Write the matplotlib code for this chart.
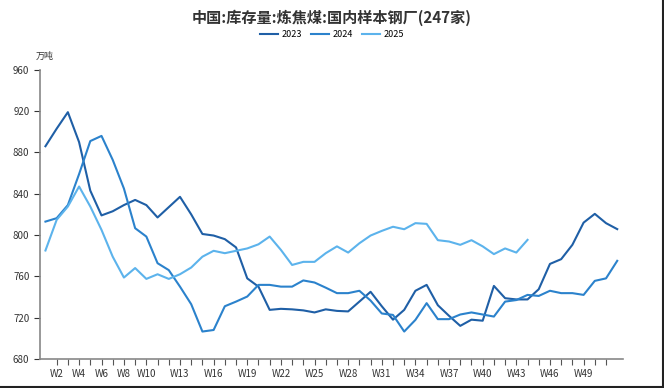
import matplotlib
matplotlib.use('Agg')
import matplotlib.pyplot as plt
from matplotlib.lines import Line2D
import numpy as np

plt.rcParams['font.family'] = ['Noto Sans CJK SC', 'DejaVu Sans']

weeks = ['W%d' % i for i in range(1, 53)]
shown_labels = ['W2', 'W4', 'W6', 'W8', 'W10', 'W13', 'W16', 'W19', 'W22', 'W25',
                'W28', 'W31', 'W34', 'W37', 'W40', 'W43', 'W46', 'W49']

y2023 = [886, 903, 919, 890, 843, 819, 823, 829, 834, 829, 817, 827, 837, 820,
         801, 799.5, 796, 788, 758, 750, 727.5, 728.5, 728, 727, 725, 728,
         726.5, 726, 735.5, 745, 731, 718, 727.5, 746, 751.7, 732, 721.7, 712,
         718, 717, 750.7, 738.8, 737.6, 737.6, 747.5, 772, 776.6, 790.5, 812,
         820.5, 811.5, 805.7]
y2024 = [813, 816.3, 829, 859, 891, 896, 872.8, 845, 806.6, 798.5, 772.7, 766,
         750, 733, 706.5, 708, 731, 735.5, 740.4, 751.7, 751.7, 750, 750, 756,
         754, 749, 743.7, 743.7, 746, 736.5, 724, 722.6, 706.5, 717.8, 734,
         718.5, 718.5, 723, 725, 723, 721, 735.5, 737, 742, 741, 746, 743.7,
         743.7, 742, 755.6, 758, 775]
y2025 = [785, 814.7, 827.6, 847, 827.6, 805, 779, 758.8, 768, 757.5, 762, 757.5,
         762, 768.5, 779, 784.7, 782.4, 784.7, 787, 791, 798.5, 785.6, 771, 774,
         774, 782.4, 789, 783, 792, 799.5, 804, 808, 805.6, 811.5, 810.8, 795,
         793.7, 790.5, 795, 789, 781.5, 787, 783, 795.3]

colors = {'2023': '#1f5fa6', '2024': '#2b82cc', '2025': '#5cb3ec'}

fig = plt.figure(figsize=(6.64, 3.88), dpi=100)
ax = fig.add_axes([0.060, 0.075, 0.878, 0.745])

x = np.arange(len(weeks))
ax.plot(x, y2023, color=colors['2023'], lw=1.5, label='2023')
ax.plot(x, y2024, color=colors['2024'], lw=1.5, label='2024')
ax.plot(np.arange(len(y2025)), y2025, color=colors['2025'], lw=1.5, label='2025')

ax.set_xlim(-0.5, 51.5)
ax.set_ylim(680, 960)
ax.set_yticks(np.arange(680, 961, 40))
ax.set_xticks(np.arange(1, 51))
ax.set_xticklabels([w if w in shown_labels else '' for w in weeks[1:51]])
ax.tick_params(axis='both', labelsize=7, colors='#333333', length=4, width=0.8)
ax.tick_params(axis='x', colors='#555555', labelcolor='#333333')
for s in ['top', 'right']:
    ax.spines[s].set_visible(False)
for s in ['left', 'bottom']:
    ax.spines[s].set_color('#888888')
    ax.spines[s].set_linewidth(1.2)

fig.text(0.5, 0.955, '中国:库存量:炼焦煤:国内样本钢厂(247家)', ha='center', va='center',
         fontsize=10.9, fontweight='bold', color='#333333')
fig.legend(loc='center', bbox_to_anchor=(0.5, 0.91), ncol=3, frameon=False,
           fontsize=6.5, handlelength=2.0, columnspacing=1.0, handletextpad=0.4)
fig.text(0.068, 0.855, '万吨', ha='center', va='center', fontsize=6.5, color='#333333')

# dark edge on the right and bottom of the screenshot
fig.lines.append(Line2D([0, 1], [0.002, 0.002], transform=fig.transFigure,
                        color='#222222', lw=1.5))
fig.lines.append(Line2D([0.998, 0.998], [0, 1], transform=fig.transFigure,
                        color='#222222', lw=1.5))

fig.savefig('out.png', dpi=100)
